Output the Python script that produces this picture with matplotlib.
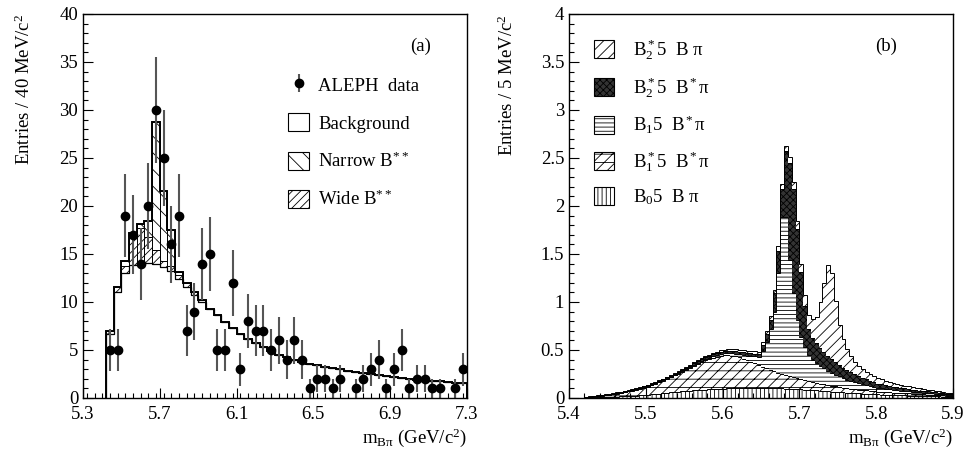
import numpy as np
import matplotlib
matplotlib.use("Agg")
import matplotlib.pyplot as plt
from matplotlib.patches import Patch
from matplotlib.ticker import MultipleLocator

plt.rcParams['font.family'] = ['Liberation Serif', 'DejaVu Serif']
plt.rcParams['mathtext.fontset'] = 'custom'
plt.rcParams['mathtext.rm'] = 'Liberation Serif'
plt.rcParams['mathtext.it'] = 'Liberation Serif:italic'
plt.rcParams['mathtext.bf'] = 'Liberation Serif:bold'
plt.rcParams['mathtext.default'] = 'rm'
plt.rcParams['hatch.linewidth'] = 0.6

# ---------------- panel (a) data ----------------
a_edge0 = 5.42
a_width = 0.04
data_counts = [5, 5, 19, 17, 14, 20, 30, 25, 16, 19, 7, 9, 14, 15, 5, 5, 12, 3, 8, 7,
               7, 5, 6, 4, 6, 4, 1, 2, 2, 1, 2, 0, 1, 2, 3, 4, 1, 3, 5, 1,
               2, 2, 1, 1, 0, 1, 3]
background = [6.7, 11.0, 13.0, 13.9, 14.1, 14.1, 14.0, 13.6, 13.2, 12.4,
              11.6, 10.7, 10.0, 9.3, 8.6, 7.95, 7.3, 6.7, 6.15, 5.7,
              5.28, 4.87, 4.52, 4.22, 3.95, 3.75, 3.57, 3.41, 3.26, 3.11,
              2.97, 2.84, 2.71, 2.59, 2.48, 2.37, 2.27, 2.17, 2.08, 2.0,
              1.92, 1.85, 1.78, 1.72, 1.66, 1.61, 1.57]
wide_b = [0.3, 0.6, 0.8, 3.3, 3.6, 2.7, 1.4, 0.7, 0.5, 0.4, 0.4, 0.3, 0.2] + [0.0] * 34
narrow_b = [0.0, 0.0, 0.5, 0.0, 0.4, 1.6, 13.3, 7.3, 3.8, 0.3] + [0.0] * 37

# ---------------- panel (b) data (5 MeV bins from 5.40) ----------------
b_edge0 = 5.40
b_width = 0.005
b0_bpi = [0, 0, 0, 0, 0.003, 0.005, 0.006, 0.007, 0.008, 0.009,
          0.010, 0.012, 0.014, 0.016, 0.018, 0.020, 0.023, 0.026, 0.029, 0.032,
          0.035, 0.038, 0.042, 0.046, 0.050, 0.054, 0.058, 0.062, 0.066, 0.070,
          0.073, 0.076, 0.079, 0.082, 0.085, 0.088, 0.090, 0.092, 0.094, 0.096,
          0.098, 0.099, 0.100, 0.101, 0.102, 0.102, 0.103, 0.103, 0.103, 0.103,
          0.103, 0.102, 0.102, 0.101, 0.100, 0.099, 0.098, 0.096, 0.094, 0.092,
          0.090, 0.088, 0.085, 0.082, 0.079, 0.076, 0.073, 0.070, 0.067, 0.064,
          0.061, 0.058, 0.055, 0.052, 0.050, 0.048, 0.046, 0.044, 0.042, 0.040,
          0.038, 0.036, 0.034, 0.032, 0.030, 0.029, 0.028, 0.027, 0.026, 0.025,
          0.024, 0.023, 0.021, 0.020, 0.019, 0.018, 0.016, 0.015, 0.013, 0.012]
b1s_bstpi = [0, 0, 0, 0, 0.005, 0.008, 0.011, 0.014, 0.017, 0.020,
             0.024, 0.028, 0.032, 0.037, 0.042, 0.048, 0.054, 0.061, 0.068, 0.076,
             0.084, 0.094, 0.105, 0.117, 0.130, 0.144, 0.158, 0.173, 0.188, 0.204,
             0.220, 0.238, 0.256, 0.273, 0.289, 0.304, 0.317, 0.328, 0.337, 0.344,
             0.348, 0.346, 0.341, 0.333, 0.322, 0.308, 0.292, 0.275, 0.257, 0.239,
             0.222, 0.206, 0.191, 0.177, 0.164, 0.152, 0.141, 0.131, 0.122, 0.114,
             0.106, 0.099, 0.092, 0.086, 0.080, 0.075, 0.070, 0.065, 0.061, 0.057,
             0.053, 0.050, 0.047, 0.044, 0.041, 0.039, 0.037, 0.035, 0.033, 0.031,
             0.029, 0.028, 0.027, 0.026, 0.025, 0.024, 0.023, 0.022, 0.021, 0.020,
             0.019, 0.018, 0.017, 0.016, 0.015, 0.014, 0.013, 0.012, 0.012, 0.011]
b1_bstpi = [0, 0, 0, 0, 0.001, 0.001, 0.001, 0.001, 0.002, 0.002,
            0.002, 0.002, 0.003, 0.003, 0.003, 0.003, 0.004, 0.004, 0.004, 0.004,
            0.004, 0.005, 0.005, 0.005, 0.005, 0.006, 0.006, 0.006, 0.007, 0.007,
            0.008, 0.009, 0.010, 0.011, 0.012, 0.013, 0.014, 0.015, 0.016, 0.018,
            0.020, 0.022, 0.025, 0.028, 0.032, 0.037, 0.043, 0.058, 0.078, 0.088,
            0.165, 0.272, 0.427, 0.622, 1.036, 1.639, 1.651, 1.213, 0.874, 0.604,
            0.444, 0.343, 0.273, 0.232, 0.201, 0.179, 0.167, 0.150, 0.135, 0.122,
            0.110, 0.099, 0.089, 0.080, 0.072, 0.065, 0.059, 0.054, 0.049, 0.045,
            0.041, 0.038, 0.035, 0.032, 0.030, 0.028, 0.026, 0.024, 0.022, 0.020,
            0.019, 0.018, 0.017, 0.016, 0.015, 0.014, 0.013, 0.011, 0.010, 0.008]
b2s_bstpi = [0, 0, 0, 0, 0.001, 0.001, 0.002, 0.002, 0.003, 0.003,
             0.004, 0.004, 0.005, 0.005, 0.006, 0.006, 0.007, 0.007, 0.008, 0.008,
             0.008, 0.009, 0.009, 0.010, 0.010, 0.011, 0.011, 0.012, 0.012, 0.012,
             0.013, 0.014, 0.015, 0.016, 0.017, 0.018, 0.019, 0.020, 0.021, 0.022,
             0.023, 0.024, 0.025, 0.026, 0.027, 0.028, 0.029, 0.028, 0.025, 0.024,
             0.060, 0.087, 0.094, 0.190, 0.235, 0.290, 0.684, 1.007, 1.089, 0.950,
             0.670, 0.430, 0.270, 0.220, 0.210, 0.190, 0.170, 0.150, 0.140, 0.130,
             0.120, 0.110, 0.100, 0.090, 0.082, 0.074, 0.067, 0.061, 0.055, 0.050,
             0.043, 0.040, 0.037, 0.034, 0.032, 0.030, 0.028, 0.026, 0.024, 0.023,
             0.021, 0.019, 0.017, 0.016, 0.014, 0.012, 0.011, 0.009, 0.008, 0.006]
b2s_bpi = [0, 0, 0, 0, 0.002, 0.002, 0.002, 0.003, 0.003, 0.003,
           0.003, 0.004, 0.004, 0.004, 0.004, 0.005, 0.005, 0.005, 0.005, 0.006,
           0.006, 0.006, 0.007, 0.007, 0.007, 0.008, 0.008, 0.008, 0.009, 0.009,
           0.010, 0.010, 0.011, 0.011, 0.012, 0.012, 0.013, 0.013, 0.014, 0.015,
           0.016, 0.017, 0.018, 0.019, 0.020, 0.021, 0.022, 0.024, 0.026, 0.028,
           0.030, 0.033, 0.036, 0.040, 0.045, 0.050, 0.056, 0.063, 0.071, 0.080,
           0.090, 0.110, 0.140, 0.200, 0.270, 0.480, 0.720, 0.950, 0.900, 0.640,
           0.420, 0.300, 0.220, 0.170, 0.135, 0.110, 0.095, 0.082, 0.072, 0.064,
           0.057, 0.051, 0.046, 0.042, 0.038, 0.035, 0.032, 0.030, 0.028, 0.026,
           0.024, 0.022, 0.021, 0.020, 0.019, 0.018, 0.017, 0.016, 0.014, 0.012]

# ---------------- figure ----------------
fig = plt.figure(figsize=(9.63, 4.51), dpi=100)
axA = fig.add_axes([83 / 963, 53 / 451, 384 / 963, 384 / 451])
axB = fig.add_axes([569 / 963, 53 / 451, 384 / 963, 384 / 451])

FS = 13.5

# ----- panel (a) -----
nA = len(background)
edgesA = a_edge0 + a_width * np.arange(nA + 1)
leftA = edgesA[:-1]
bkg = np.array(background)
wide = np.array(wide_b)
narrow = np.array(narrow_b)
axA.bar(leftA, wide, width=a_width, bottom=bkg, align='edge', facecolor='white',
        edgecolor='black', linewidth=0.7, hatch='////')
axA.bar(leftA, narrow, width=a_width, bottom=bkg + wide, align='edge', facecolor='white',
        edgecolor='black', linewidth=0.7, hatch='\\\\')
axA.stairs(bkg, edgesA, baseline=0, color='black', linewidth=0.9)
axA.stairs(bkg + wide + narrow, edgesA, baseline=0, color='black', linewidth=1.4)

cnt = np.array(data_counts, dtype=float)
centersA = leftA + a_width / 2
m = cnt > 0
eb = axA.errorbar(centersA[m], cnt[m], yerr=np.sqrt(cnt[m]), fmt='o', color='black',
                  ecolor='#555555', elinewidth=1.5, markersize=6, capsize=0,
                  label='ALEPH  data')

axA.set_xlim(5.3, 7.3)
axA.set_ylim(0, 40)
axA.xaxis.set_minor_locator(MultipleLocator(0.04))
axA.yaxis.set_major_locator(MultipleLocator(5))
axA.yaxis.set_minor_locator(MultipleLocator(1))
axA.set_xticks([5.3, 5.7, 6.1, 6.5, 6.9, 7.3])
axA.set_xticklabels(['5.3', '5.7', '6.1', '6.5', '6.9', '7.3'])

hA = [eb,
      Patch(facecolor='white', edgecolor='black', linewidth=0.8),
      Patch(facecolor='white', edgecolor='black', linewidth=0.8, hatch='\\\\'),
      Patch(facecolor='white', edgecolor='black', linewidth=0.8, hatch='////')]
lA = ['ALEPH  data', 'Background', r'Narrow B$^{**}$', r'Wide B$^{**}$']
axA.legend(hA, lA, loc='upper left', bbox_to_anchor=(0.515, 0.86), frameon=False,
           fontsize=FS, handlelength=1.1, handleheight=1.1, labelspacing=1.0,
           handletextpad=0.5, borderaxespad=0)
axA.text(0.88, 0.915, '(a)', transform=axA.transAxes, fontsize=FS, ha='center', va='center')
axA.set_ylabel(r'Entries / 40 MeV/c$^2$', fontsize=FS, loc='top', labelpad=18)
axA.set_xlabel(r'm$_{\mathrm{B\pi}}$ (GeV/c$^2$)', fontsize=FS, loc='right', labelpad=2)

# ----- panel (b) -----
comps = [np.array(b0_bpi), np.array(b1s_bstpi), np.array(b1_bstpi),
         np.array(b2s_bstpi), np.array(b2s_bpi)]
hatches = ['||||', '///--', '----', 'xxxxx', '///']
faces = ['white', 'white', 'white', '#333333', 'white']
nB = len(b0_bpi)
edgesB = b_edge0 + b_width * np.arange(nB + 1)
leftB = edgesB[:-1]
base = np.zeros(nB)
for comp, h, fc in zip(comps, hatches, faces):
    axB.bar(leftB, comp, width=b_width, bottom=base, align='edge', facecolor=fc,
            edgecolor='black', linewidth=0, hatch=h)
    base = base + comp
    axB.stairs(base, edgesB, baseline=None, color='black', linewidth=0.7)

axB.set_xlim(5.4, 5.9)
axB.set_ylim(0, 4)
axB.xaxis.set_minor_locator(MultipleLocator(0.02))
axB.yaxis.set_minor_locator(MultipleLocator(0.1))
axB.set_xticks([5.4, 5.5, 5.6, 5.7, 5.8, 5.9])
axB.set_xticklabels(['5.4', '5.5', '5.6', '5.7', '5.8', '5.9'])
axB.set_yticks([0, 0.5, 1, 1.5, 2, 2.5, 3, 3.5, 4])
axB.set_yticklabels(['0', '0.5', '1', '1.5', '2', '2.5', '3', '3.5', '4'])

hB = [Patch(facecolor=fc, edgecolor='black', linewidth=0.8, hatch=h)
      for h, fc in zip(hatches, faces)][::-1]
lB = [r'B$_2^*$5  B $\mathrm{\pi}$', r'B$_2^*$5  B$^*\mathrm{\pi}$', r'B$_1$5  B$^*\mathrm{\pi}$',
      r'B$_1^*$5  B$^*\mathrm{\pi}$', r'B$_0$5  B $\mathrm{\pi}$']
axB.legend(hB, lB, loc='upper left', bbox_to_anchor=(0.045, 0.958), frameon=False,
           fontsize=FS, handlelength=1.1, handleheight=1.1, labelspacing=0.72,
           handletextpad=1.0, borderaxespad=0)
axB.text(0.825, 0.915, '(b)', transform=axB.transAxes, fontsize=FS, ha='center', va='center')
axB.set_ylabel(r'Entries / 5 MeV/c$^2$', fontsize=FS, loc='top', labelpad=17)
axB.set_xlabel(r'm$_{\mathrm{B\pi}}$ (GeV/c$^2$)', fontsize=FS, loc='right', labelpad=2)

for ax in (axA, axB):
    ax.tick_params(which='both', direction='in', top=False, right=False, labelsize=FS)
    ax.tick_params(which='major', length=7, width=0.8)
    ax.tick_params(which='minor', length=3.5, width=0.8)
    ax.tick_params(axis='x', pad=6)
    for s in ax.spines.values():
        s.set_linewidth(1.0)

fig.savefig('out.png', dpi=100)
